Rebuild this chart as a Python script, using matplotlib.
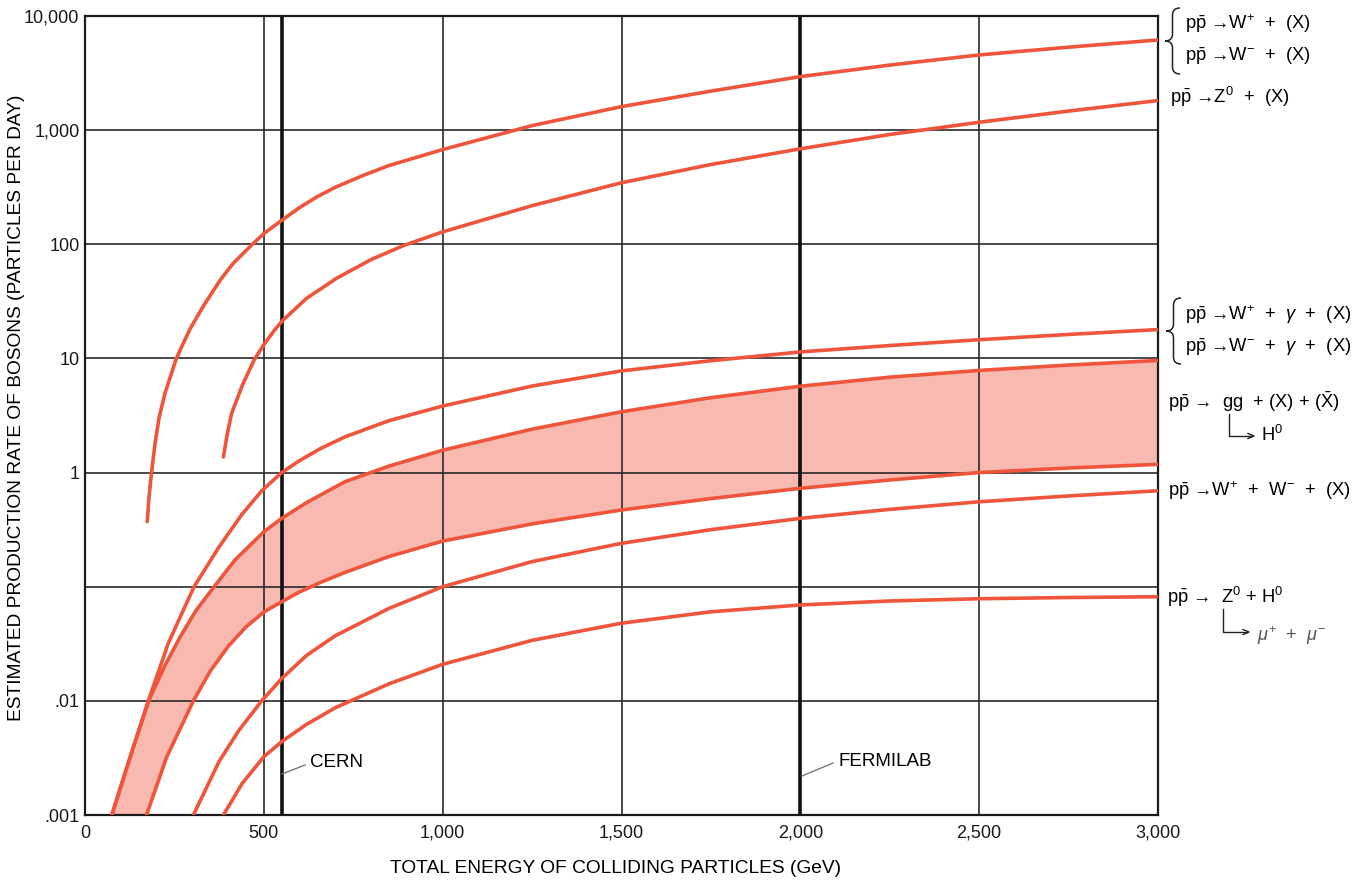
"""Estimated boson production rate vs. total collision energy (log scale)."""

import matplotlib
matplotlib.use("Agg")
import matplotlib.pyplot as plt
from matplotlib.lines import Line2D
from matplotlib.path import Path
from matplotlib.patches import PathPatch

plt.rcParams.update({"font.family": ["Liberation Sans", "DejaVu Sans"],
                     "mathtext.fontset": "custom",
                     "mathtext.rm": "Liberation Sans",
                     "mathtext.it": "Liberation Sans:italic",
                     "mathtext.bf": "Liberation Sans:bold"})

W_PX, H_PX = 1362, 880
RED = "#ef553a"
PINK = "#f7b9b0"
GRID = "#2a2a2a"

# ---- data (energy in GeV, rate in particles per day) ----
w_e = [174, 179, 186, 196, 207, 224, 254, 270, 294, 331, 377, 396, 415, 468, 500,
       550, 600, 650, 700, 775, 850, 1000, 1250, 1500, 1750, 2000, 2250, 2500, 2750,
       3000]
w_rate = [0.372, 0.61, 1.0, 1.8, 3.02, 5.0, 9.7, 12.6, 18.2, 28.8, 48, 57.5, 68.4,
          100, 124, 162, 210, 262, 316, 398, 490, 676, 1096, 1607, 2198, 2944, 3715,
          4560, 5333, 6166]

z_e = [387, 398, 410, 440, 472, 500, 531, 552, 620, 704, 800, 890, 1000, 1250,
       1500, 1750, 2000, 2250, 2500, 2750, 3000]
z_rate = [1.37, 2.2, 3.3, 5.83, 9.59, 13.2, 17.9, 21.4, 33.7, 50.5, 73.5, 97.3,
          128.5, 218, 346, 500, 686, 916, 1172, 1469, 1816]

wg_e = [75, 126, 177, 233, 261, 305, 373, 438, 494, 550, 600, 660, 727, 850, 1000,
        1250, 1500, 1750, 2000, 2250, 2500, 2750, 3000]
wg_rate = [0.001, 0.0032, 0.01, 0.032, 0.050, 0.1, 0.219, 0.427, 0.692, 1.0, 1.274,
           1.633, 2.056, 2.851, 3.828, 5.728, 7.78, 9.55, 11.4, 12.97, 14.59,
           16.22, 17.91]

ggh_hi_e = [75, 126, 178, 222, 266, 310, 361, 419, 500, 550, 620, 727, 850, 1000,
            1250, 1500, 1750, 2000, 2250, 2500, 2750, 3000]
ggh_hi_rate = [0.001, 0.0032, 0.01, 0.02, 0.0363, 0.0617, 0.1, 0.171, 0.303, 0.397,
               0.547, 0.832, 1.14, 1.57, 2.40, 3.41, 4.53, 5.71, 6.85, 7.85, 8.75,
               9.6]

ggh_lo_e = [172, 228, 303, 350, 401, 450, 500, 551, 597, 660, 727, 850, 1000, 1250,
            1500, 1750, 2000, 2250, 2500, 2750, 3000]
ggh_lo_rate = [0.001, 0.0032, 0.01, 0.0182, 0.0302, 0.0444, 0.060, 0.0741, 0.0891,
               0.1096, 0.1334, 0.184, 0.251, 0.355, 0.470, 0.592, 0.728, 0.861,
               1.0, 1.096, 1.18]

ww_e = [303, 375, 430, 494, 551, 620, 700, 850, 1000, 1250, 1500, 1750, 2000, 2250,
        2500, 2750, 3000]
ww_rate = [0.001, 0.00295, 0.0055, 0.01, 0.0158, 0.0251, 0.0372, 0.0646, 0.1, 0.166,
           0.240, 0.316, 0.397, 0.476, 0.555, 0.624, 0.693]

zh_e = [387, 440, 500, 551, 620, 700, 850, 1000, 1250, 1500, 1750, 2000, 2250, 2500,
        2750, 3000]
zh_rate = [0.001, 0.0019, 0.00324, 0.00442, 0.00624, 0.00871, 0.0141, 0.0209,
           0.0339, 0.0479, 0.0603, 0.0692, 0.0750, 0.0785, 0.0804, 0.0817]

x_ticks = [0, 500, 1000, 1500, 2000, 2500, 3000]
x_ticklabels = ["0", "500", "1,000", "1,500", "2,000", "2,500", "3,000"]
y_ticks = [0.001, 0.01, 0.1, 1, 10, 100, 1000, 10000]
y_ticklabels = [".001", ".01", "", "1", "10", "100", "1,000", "10,000"]

CERN_E = 550
FERMILAB_E = 2000


def fx(px):
    return px / W_PX


def fy(py):
    return 1 - py / H_PX


def brace(fig, x_tip, x_right, y_top, y_bot):
    xm = (x_tip + x_right) / 2
    ym = (y_top + y_bot) / 2
    r = 7
    pts = [(x_right, y_top), (xm, y_top), (xm, y_top + r), (xm, ym - r),
           (xm, ym), (x_tip, ym), (xm, ym), (xm, ym + r), (xm, y_bot - r),
           (xm, y_bot), (x_right, y_bot)]
    codes = [Path.MOVETO, Path.CURVE3, Path.CURVE3, Path.LINETO,
             Path.CURVE3, Path.CURVE3, Path.CURVE3, Path.CURVE3, Path.LINETO,
             Path.CURVE3, Path.CURVE3]
    path = Path([(fx(a), fy(b)) for a, b in pts], codes)
    fig.patches.append(PathPatch(path, fill=False, lw=1.1, ec="#222",
                                 transform=fig.transFigure))


def fline(fig, xs, ys, **kw):
    fig.add_artist(Line2D([fx(v) for v in xs], [fy(v) for v in ys],
                          transform=fig.transFigure, **kw))


def l_arrow(fig, x, y0, y1, x_end):
    kw = dict(lw=1.0, c="#222")
    fline(fig, [x, x, x_end - 2], [y0, y1, y1], **kw)
    fline(fig, [x_end - 6, x_end, x_end - 6], [y1 - 2.5, y1, y1 + 2.5], **kw)


fig = plt.figure(figsize=(13.62, 8.8), dpi=100)
ax = fig.add_axes([fx(85), fy(815), fx(1158) - fx(85), fy(16) - fy(815)])
ax.set_yscale("log")
ax.set_xlim(0, 3000)
ax.set_ylim(0.001, 10000)

# grid
for xv in x_ticks:
    ax.axvline(xv, c=GRID, lw=1.2, zorder=2)
for yv in y_ticks:
    ax.axhline(yv, c=GRID, lw=1.2, zorder=2)
ax.axvline(CERN_E, c="#111", lw=2.6, zorder=2)
ax.axvline(FERMILAB_E, c="#111", lw=2.6, zorder=2)

# gg -> H band
ax.fill(ggh_hi_e + ggh_lo_e[::-1], ggh_hi_rate + ggh_lo_rate[::-1],
        color=PINK, lw=0, zorder=1)

for e, r in [(w_e, w_rate), (z_e, z_rate), (wg_e, wg_rate), (ggh_hi_e, ggh_hi_rate),
             (ggh_lo_e, ggh_lo_rate), (ww_e, ww_rate), (zh_e, zh_rate)]:
    ax.plot(e, r, c=RED, lw=2.6, solid_capstyle="round", solid_joinstyle="round",
            zorder=3)

ax.set_xticks(x_ticks, x_ticklabels)
ax.set_yticks(y_ticks, y_ticklabels)
ax.minorticks_off()
ax.tick_params(length=0, labelsize=13, colors="#1a1a1a")
ax.tick_params(axis="x", pad=7)
ax.tick_params(axis="y", pad=4)
for s in ax.spines.values():
    s.set_linewidth(1.6)
    s.set_color("#1a1a1a")

fig.text(fx(616), fy(868), "TOTAL ENERGY OF COLLIDING PARTICLES (GeV)",
         ha="center", va="center", fontsize=13.8)
fig.text(fx(17), fy(408), "ESTIMATED PRODUCTION RATE OF BOSONS (PARTICLES PER DAY)",
         ha="center", va="center", rotation=90, fontsize=13.8)

# accelerator labels
fig.text(fx(310), fy(762), "CERN", ha="left", va="center", fontsize=13.5)
fline(fig, [282, 305], [774, 765], lw=1.0, c="#777")
fig.text(fx(838), fy(761), "FERMILAB", ha="left", va="center", fontsize=13.5)
fline(fig, [802, 833], [776, 763], lw=1.0, c="#777")

# right-hand reaction labels
PP = r"p$\bar{\mathrm{p}}$"
fs = 13.2
brace(fig, 1165, 1180, 8, 74)
fig.text(fx(1185), fy(24), PP + r" →W$^{+}$  +  (X)", va="center", fontsize=fs)
fig.text(fx(1185), fy(56), PP + r" →W$^{-}$  +  (X)", va="center", fontsize=fs)
fig.text(fx(1170), fy(97), PP + r" →Z$^{0}$  +  (X)", va="center", fontsize=fs)

brace(fig, 1166, 1181, 298, 364)
fig.text(fx(1185), fy(315), PP + r" →W$^{+}$  +  $\gamma$  +  (X)", va="center",
         fontsize=fs)
fig.text(fx(1185), fy(347), PP + r" →W$^{-}$  +  $\gamma$  +  (X)", va="center",
         fontsize=fs)

fig.text(fx(1168), fy(402), PP + r" →  gg  + (X) + ($\bar{\mathrm{X}}$)", va="center",
         fontsize=fs)
l_arrow(fig, 1229, 414, 436, 1254)
fig.text(fx(1261), fy(435), r"H$^{0}$", va="center", fontsize=fs)

fig.text(fx(1168), fy(491), PP + r" →W$^{+}$  +  W$^{-}$  +  (X)", va="center",
         fontsize=fs)

fig.text(fx(1167), fy(597), PP + r" →  Z$^{0}$ + H$^{0}$", va="center", fontsize=fs)
l_arrow(fig, 1223, 609, 632, 1249)
fig.text(fx(1257), fy(636), r"$\mu^{+}$  +  $\mu^{-}$", va="center", fontsize=13,
         color="#555")

fig.savefig("out.png", dpi=100)
